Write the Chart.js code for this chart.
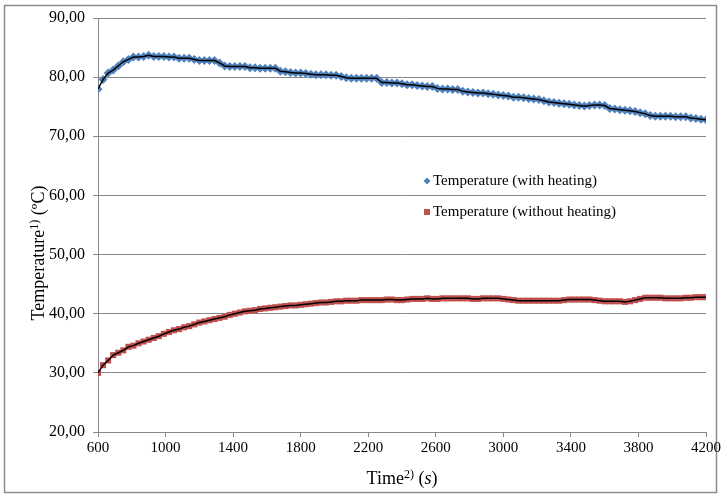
<!DOCTYPE html>
<html>
<head>
<meta charset="utf-8">
<script src="https://cdn.jsdelivr.net/npm/chart.js@4.4.1/dist/chart.umd.min.js"></script>
<style>
  html, body { margin: 0; padding: 0; background: #fff; }
  #wrap { width: 722px; height: 499px; }
</style>
</head>
<body>
<div id="wrap"><canvas id="temp-chart" width="722" height="499"></canvas></div>
<script>
// sample times (s)
const timeSec = [
  600, 630, 660, 690, 720, 750, 780, 810, 840, 870, 900, 930, 960, 990,
  1020, 1050, 1080, 1110, 1140, 1170, 1200, 1230, 1260, 1290, 1320, 1350, 1380, 1410,
  1440, 1470, 1500, 1530, 1560, 1590, 1620, 1650, 1680, 1710, 1740, 1770, 1800, 1830,
  1860, 1890, 1920, 1950, 1980, 2010, 2040, 2070, 2100, 2130, 2160, 2190, 2220, 2250,
  2280, 2310, 2340, 2370, 2400, 2430, 2460, 2490, 2520, 2550, 2580, 2610, 2640, 2670,
  2700, 2730, 2760, 2790, 2820, 2850, 2880, 2910, 2940, 2970, 3000, 3030, 3060, 3090,
  3120, 3150, 3180, 3210, 3240, 3270, 3300, 3330, 3360, 3390, 3420, 3450, 3480, 3510,
  3540, 3570, 3600, 3630, 3660, 3690, 3720, 3750, 3780, 3810, 3840, 3870, 3900, 3930,
  3960, 3990, 4020, 4050, 4080, 4110, 4140, 4170, 4200
];

// temperature (°C) with heating
const tempHeating = [
  78.0, 79.6, 80.7, 81.2, 81.9, 82.6, 83.0, 83.4, 83.4, 83.5, 83.7, 83.5, 83.5, 83.5,
  83.4, 83.4, 83.2, 83.2, 83.2, 83.0, 82.8, 82.8, 82.8, 82.8, 82.4, 81.9, 81.8, 81.8,
  81.8, 81.8, 81.6, 81.6, 81.5, 81.5, 81.5, 81.5, 81.0, 80.9, 80.8, 80.7, 80.7, 80.6,
  80.5, 80.4, 80.4, 80.4, 80.3, 80.3, 80.1, 79.9, 79.8, 79.8, 79.8, 79.8, 79.8, 79.8,
  79.1, 79.1, 79.0, 79.0, 78.9, 78.7, 78.7, 78.6, 78.5, 78.4, 78.4, 78.1, 78.0, 78.0,
  77.9, 77.9, 77.6, 77.5, 77.4, 77.3, 77.3, 77.2, 77.1, 77.0, 76.9, 76.8, 76.6, 76.6,
  76.5, 76.4, 76.3, 76.2, 76.0, 75.8, 75.7, 75.6, 75.5, 75.4, 75.3, 75.2, 75.1, 75.2,
  75.3, 75.3, 75.2, 74.7, 74.6, 74.5, 74.4, 74.3, 74.2, 74.0, 73.8, 73.5, 73.4, 73.4,
  73.4, 73.4, 73.3, 73.3, 73.3, 73.1, 73.0, 72.9, 72.8
];

// temperature (°C) without heating
const tempNoHeating = [
  30.0, 31.3, 32.1, 33.0, 33.4, 33.8, 34.4, 34.6, 35.0, 35.3, 35.6, 35.9, 36.2, 36.6,
  36.9, 37.2, 37.4, 37.7, 37.9, 38.2, 38.5, 38.7, 38.9, 39.1, 39.3, 39.5, 39.8, 40.0,
  40.2, 40.4, 40.5, 40.6, 40.8, 40.9, 41.0, 41.1, 41.2, 41.3, 41.4, 41.4, 41.5, 41.6,
  41.7, 41.8, 41.9, 41.9, 42.0, 42.1, 42.1, 42.2, 42.2, 42.2, 42.3, 42.3, 42.3, 42.3,
  42.3, 42.4, 42.4, 42.3, 42.3, 42.4, 42.5, 42.5, 42.5, 42.6, 42.5, 42.5, 42.6, 42.6,
  42.6, 42.6, 42.6, 42.6, 42.5, 42.5, 42.6, 42.6, 42.6, 42.6, 42.5, 42.4, 42.3, 42.2,
  42.2, 42.2, 42.2, 42.2, 42.2, 42.2, 42.2, 42.2, 42.3, 42.4, 42.4, 42.4, 42.4, 42.4,
  42.3, 42.2, 42.1, 42.1, 42.1, 42.1, 42.0, 42.1, 42.3, 42.5, 42.7, 42.7, 42.7, 42.7,
  42.6, 42.6, 42.6, 42.6, 42.7, 42.7, 42.8, 42.8, 42.8
];

const xTicks = [600, 1000, 1400, 1800, 2200, 2600, 3000, 3400, 3800, 4200];
const yTicks = [20, 30, 40, 50, 60, 70, 80, 90];
const seriesLabels = ['Temperature (with heating)', 'Temperature (without heating)'];

const SERIF = "'Liberation Serif', 'Times New Roman', serif";
const GRID = '#888888';

const toPoints = (vals) => vals.map((v, i) => ({ x: timeSec[i], y: v }));

// draws a run of text pieces (normal / italic / superscript) centred on cx
function drawRich(ctx, parts, cx, baseY) {
  let total = 0;
  parts.forEach(p => {
    ctx.font = (p.italic ? 'italic ' : '') + p.size + 'px ' + SERIF;
    p.w = ctx.measureText(p.text).width;
    total += p.w;
  });
  let x = cx - total / 2;
  ctx.textAlign = 'left';
  ctx.textBaseline = 'alphabetic';
  ctx.fillStyle = '#000';
  parts.forEach(p => {
    ctx.font = (p.italic ? 'italic ' : '') + p.size + 'px ' + SERIF;
    ctx.fillText(p.text, x, baseY - (p.rise || 0));
    x += p.w;
  });
}

const framePlugin = {
  id: 'frame',
  beforeDraw(chart) {
    const ctx = chart.ctx;
    ctx.save();
    ctx.fillStyle = '#fff';
    ctx.fillRect(0, 0, chart.width, chart.height);
    ctx.strokeStyle = '#8c8c8c';
    ctx.lineWidth = 1.5;
    ctx.strokeRect(4.5, 5.5, 712, 487);
    ctx.restore();
  }
};

const titlesPlugin = {
  id: 'axisTitles',
  afterDraw(chart) {
    const ctx = chart.ctx;
    const area = chart.chartArea;
    ctx.save();
    drawRich(ctx, [
      { text: 'Time', size: 18 },
      { text: '2)', size: 12, rise: 6 },
      { text: ' (', size: 18 },
      { text: 's', size: 18, italic: true },
      { text: ')', size: 18 }
    ], (area.left + area.right) / 2, 484);
    ctx.translate(44, 253);
    ctx.rotate(-Math.PI / 2);
    drawRich(ctx, [
      { text: 'Temperature', size: 18 },
      { text: '1)', size: 12, rise: 6 },
      { text: ' (ºC)', size: 18 }
    ], 0, 0);
    ctx.restore();
  }
};

// legend box sitting inside the plot area
const legendPlugin = {
  id: 'innerLegend',
  afterDraw(chart) {
    const ctx = chart.ctx;
    ctx.save();
    let y = 181;
    chart.data.datasets.forEach(ds => {
      if (ds.showLine !== false) return;
      const x = 427;
      ctx.fillStyle = ds.backgroundColor;
      if (ds.pointStyle === 'rectRot') {
        ctx.beginPath();
        ctx.moveTo(x, y - 3.5);
        ctx.lineTo(x + 3.5, y);
        ctx.lineTo(x, y + 3.5);
        ctx.lineTo(x - 3.5, y);
        ctx.closePath();
        ctx.fill();
      } else {
        ctx.fillRect(x - 3, y - 3, 6, 6);
      }
      ctx.fillStyle = '#000';
      ctx.font = '15px ' + SERIF;
      ctx.textAlign = 'left';
      ctx.textBaseline = 'middle';
      ctx.fillText(ds.label, 433, y);
      y += 31;
    });
    ctx.restore();
  }
};

const ctx = document.getElementById('temp-chart').getContext('2d');
new Chart(ctx, {
  type: 'scatter',
  data: {
    datasets: [
      {
        label: 'heating-line',
        data: toPoints(tempHeating),
        showLine: true,
        borderColor: '#000',
        borderWidth: 1.5,
        pointRadius: 0,
        order: 0
      },
      {
        label: 'no-heating-line',
        data: toPoints(tempNoHeating),
        showLine: true,
        borderColor: '#000',
        borderWidth: 1.5,
        pointRadius: 0,
        order: 0
      },
      {
        label: seriesLabels[0],
        data: toPoints(tempHeating),
        showLine: false,
        pointStyle: 'rectRot',
        pointRadius: 4.5,
        borderWidth: 0,
        backgroundColor: '#4F81BD',
        borderColor: '#4F81BD',
        order: 1
      },
      {
        label: seriesLabels[1],
        data: toPoints(tempNoHeating),
        showLine: false,
        pointStyle: 'rect',
        pointRadius: 4.3,
        borderWidth: 0,
        backgroundColor: '#C0504D',
        borderColor: '#C0504D',
        order: 1
      }
    ]
  },
  options: {
    responsive: false,
    devicePixelRatio: 1,
    animation: false,
    layout: { padding: { top: 18, right: 16, left: 0, bottom: 0 } },
    plugins: {
      legend: { display: false },
      tooltip: { enabled: false }
    },
    scales: {
      x: {
        type: 'linear',
        min: 600,
        max: 4200,
        afterBuildTicks: (s) => { s.ticks = xTicks.map(v => ({ value: v })); },
        afterFit: (s) => { s.height = 67; s.paddingLeft = 0; s.paddingRight = 0; },
        grid: { drawOnChartArea: false, drawTicks: true, tickLength: 5, color: GRID },
        border: { color: GRID, width: 1 },
        ticks: {
          autoSkip: false,
          maxRotation: 0,
          padding: 2,
          color: '#000',
          font: { family: SERIF, size: 15 },
          callback: (v) => String(v)
        }
      },
      y: {
        min: 20,
        max: 90,
        afterBuildTicks: (s) => { s.ticks = yTicks.map(v => ({ value: v })); },
        afterFit: (s) => { s.width = 98; s.paddingTop = 0; s.paddingBottom = 0; },
        grid: { color: GRID, lineWidth: 1, tickLength: 5 },
        border: { color: GRID, width: 1 },
        ticks: {
          padding: 8,
          color: '#000',
          font: { family: SERIF, size: 16 },
          callback: (v) => v.toFixed(2).replace('.', ',')
        }
      }
    }
  },
  plugins: [framePlugin, titlesPlugin, legendPlugin]
});
</script>
</body>
</html>
